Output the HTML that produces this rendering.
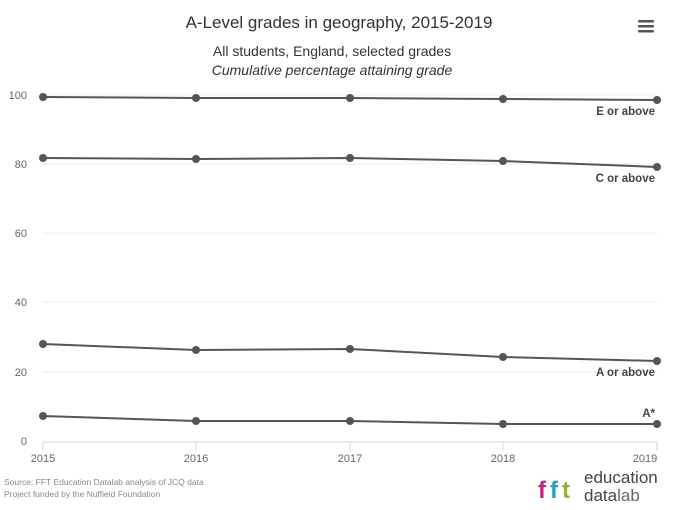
<!DOCTYPE html>
<html><head><style>body{margin:0;background:#fff}svg{display:block;font-family:"Liberation Sans",sans-serif}</style></head>
<body>
<svg width="679" height="510" viewBox="0 0 679 510">
<text x="339" y="28" text-anchor="middle" font-size="17" fill="#333">A-Level grades in geography, 2015-2019</text>
<text x="332" y="56" text-anchor="middle" font-size="14" fill="#333">All students, England, selected grades</text>
<text x="332" y="75" text-anchor="middle" font-size="14" font-style="italic" fill="#333">Cumulative percentage attaining grade</text>
<g fill="#555"><rect x="638" y="20" width="16" height="2.5" rx="1"/><rect x="638" y="25" width="16" height="2.5" rx="1"/><rect x="638" y="30" width="16" height="2.5" rx="1"/></g>
<g stroke="#eeeeee" stroke-width="1">
<line x1="43" x2="657" y1="95" y2="95"/><line x1="43" x2="657" y1="164" y2="164"/><line x1="43" x2="657" y1="233" y2="233"/><line x1="43" x2="657" y1="302" y2="302"/><line x1="43" x2="657" y1="372" y2="372"/></g>
<line x1="43" x2="657" y1="442" y2="442" stroke="#ccd6eb"/>
<g stroke="#ccd6eb"><line x1="43" x2="43" y1="442" y2="451"/><line x1="196" x2="196" y1="442" y2="451"/><line x1="350" x2="350" y1="442" y2="451"/><line x1="503" x2="503" y1="442" y2="451"/><line x1="657" x2="657" y1="442" y2="451"/></g>
<g font-size="11" fill="#666" text-anchor="end">
<text x="27" y="99">100</text><text x="27" y="168">80</text><text x="27" y="237">60</text><text x="27" y="306">40</text><text x="27" y="376">20</text><text x="27" y="445">0</text></g>
<g font-size="11" fill="#666" text-anchor="middle">
<text x="43" y="462">2015</text><text x="196" y="462">2016</text><text x="350" y="462">2017</text><text x="503" y="462">2018</text><text x="645" y="462">2019</text></g>
<g stroke="#555" stroke-width="2" fill="none">
<polyline points="43,97 196,98 350,98 503,99 657,100"/>
<polyline points="43,158 196,159 350,158 503,161 657,167"/>
<polyline points="43,344 196,350 350,349 503,357 657,361"/>
<polyline points="43,416 196,421 350,421 503,424 657,424"/></g>
<g fill="#555">
<circle cx="43" cy="97" r="4"/><circle cx="196" cy="98" r="4"/><circle cx="350" cy="98" r="4"/><circle cx="503" cy="99" r="4"/><circle cx="657" cy="100" r="4"/>
<circle cx="43" cy="158" r="4"/><circle cx="196" cy="159" r="4"/><circle cx="350" cy="158" r="4"/><circle cx="503" cy="161" r="4"/><circle cx="657" cy="167" r="4"/>
<circle cx="43" cy="344" r="4"/><circle cx="196" cy="350" r="4"/><circle cx="350" cy="349" r="4"/><circle cx="503" cy="357" r="4"/><circle cx="657" cy="361" r="4"/>
<circle cx="43" cy="416" r="4"/><circle cx="196" cy="421" r="4"/><circle cx="350" cy="421" r="4"/><circle cx="503" cy="424" r="4"/><circle cx="657" cy="424" r="4"/></g>
<g font-size="11.5" font-weight="bold" fill="#444" text-anchor="end">
<text x="655" y="115">E or above</text><text x="655" y="182">C or above</text><text x="655" y="376">A or above</text><text x="655" y="417">A*</text></g>
<g font-size="8.5" fill="#888"><text x="4" y="485">Source: FFT Education Datalab analysis of JCQ data</text><text x="4" y="497">Project funded by the Nuffield Foundation</text></g>
<g font-size="11" font-weight="bold"><text x="538" y="498" fill="#c4237a" font-size="24" font-family="Liberation Sans" >f</text><text x="550" y="498" fill="#2a9fc0" font-size="24">f</text><text x="562" y="498" fill="#8fb13a" font-size="24">t</text></g>
<g font-size="17" fill="#444"><text x="584" y="483">education</text><text x="584" y="501">data<tspan font-weight="normal" fill="#666">lab</tspan></text></g>
</svg>
</body></html>
